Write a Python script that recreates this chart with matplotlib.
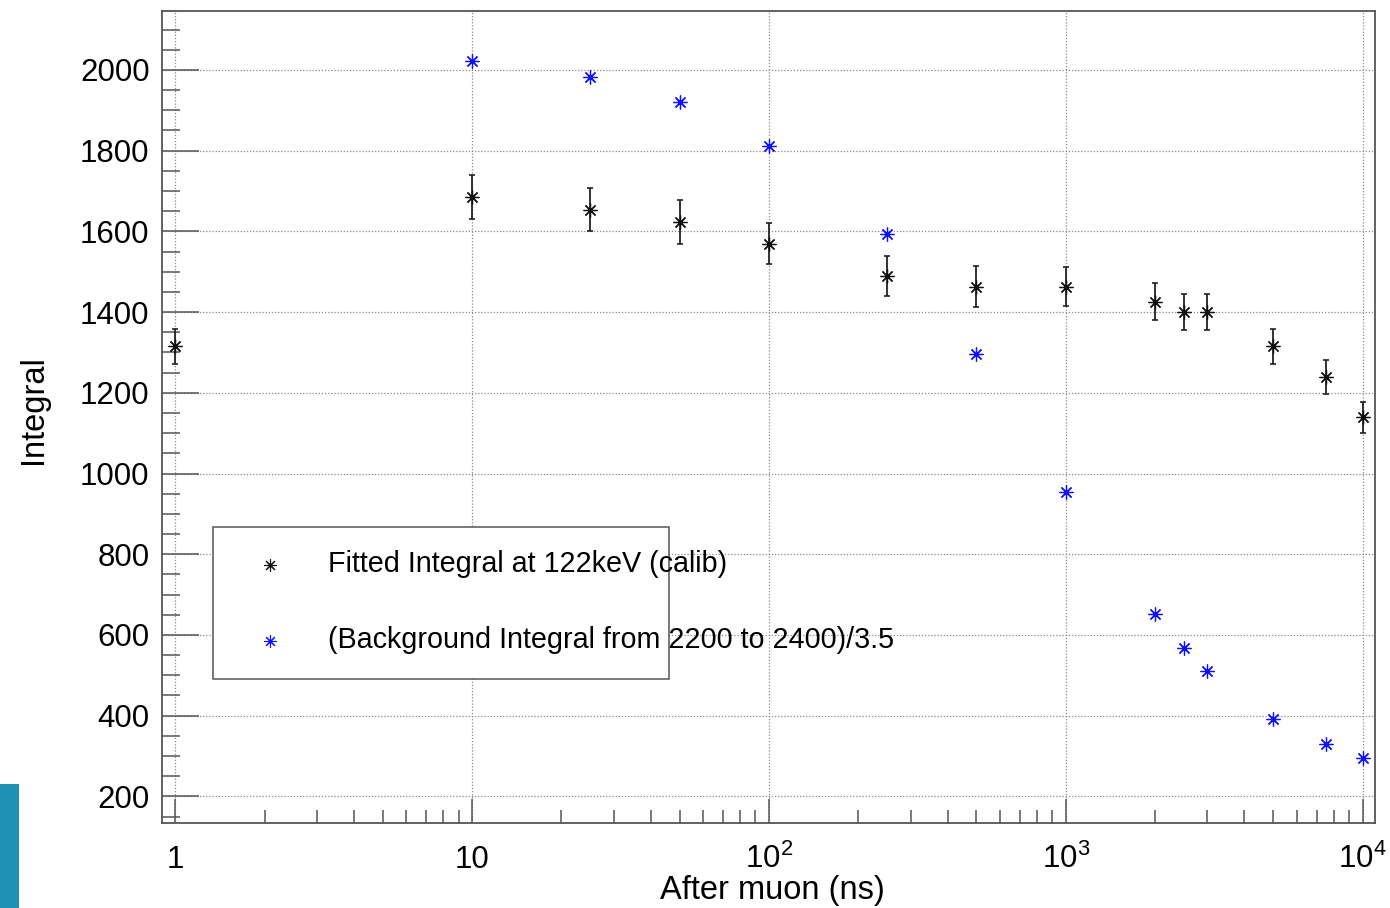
import matplotlib
matplotlib.use("Agg")
import matplotlib.pyplot as plt
from matplotlib.ticker import MultipleLocator, FixedLocator, FixedFormatter, NullFormatter
from matplotlib.patches import Rectangle
from matplotlib.lines import Line2D

plt.rcParams['font.family'] = ['Liberation Sans', 'DejaVu Sans']
plt.rcParams['mathtext.fontset'] = 'custom'
plt.rcParams['mathtext.rm'] = 'Liberation Sans'

# ---- data ----
x_fit = [1, 10, 25, 50, 100, 250, 500, 1000, 2000, 2500, 3000, 5000, 7500, 10000]
y_fit = [1315, 1685, 1654, 1623, 1569, 1489, 1463, 1463, 1426, 1400, 1400, 1315, 1239, 1139]
e_fit = [43, 54, 54, 54, 51, 50, 50, 49, 46, 45, 45, 43, 41, 38]

x_bkg = [10, 25, 50, 100, 250, 500, 1000, 2000, 2500, 3000, 5000, 7500, 10000]
y_bkg = [2022, 1983, 1920, 1812, 1594, 1297, 953, 652, 567, 510, 391, 330, 295]

xtick_vals = [1, 10, 100, 1000, 10000]
xtick_labels = ['1', '10', r'$\mathregular{10^{2}}$', r'$\mathregular{10^{3}}$', r'$\mathregular{10^{4}}$']
ytick_vals = [200, 400, 600, 800, 1000, 1200, 1400, 1600, 1800, 2000]

label_fit = 'Fitted Integral at 122keV (calib)'
label_bkg = '(Background Integral from 2200 to 2400)/3.5'

W, H = 1390, 908
fig = plt.figure(figsize=(W / 100, H / 100), dpi=100)
ax = fig.add_axes([162 / W, 1 - 823 / H, (1375 - 162) / W, (823 - 11) / H])

ax.set_xscale('log')
ax.set_xlim(0.902, 11008)
ax.set_ylim(134, 2146)

frame_c = '#555555'
for s in ax.spines.values():
    s.set_color(frame_c)
    s.set_linewidth(1.3)

ax.xaxis.set_major_locator(FixedLocator(xtick_vals))
ax.xaxis.set_major_formatter(FixedFormatter(xtick_labels))
minor_x = [m * 10 ** d for d in range(-1, 5) for m in range(2, 10)]
ax.xaxis.set_minor_locator(FixedLocator(minor_x))
ax.xaxis.set_minor_formatter(NullFormatter())

ax.yaxis.set_major_locator(FixedLocator(ytick_vals))
ax.yaxis.set_minor_locator(MultipleLocator(50))

ax.tick_params(axis='y', which='major', direction='in', length=26.5, width=1.1,
               color=frame_c, left=True, right=False, labelsize=22.5, pad=9)
ax.tick_params(axis='y', which='minor', direction='in', length=13, width=1.1,
               color=frame_c, left=True, right=False)
ax.tick_params(axis='x', which='major', direction='in', length=17, width=1.1,
               color=frame_c, bottom=True, top=False, labelsize=22.5, pad=32.4)
ax.tick_params(axis='x', which='minor', direction='in', length=9.4, width=1.1,
               color=frame_c, bottom=True, top=False)

ax.grid(True, which='major', linestyle=(0, (1, 1.5)), color='#8a8a8a', linewidth=0.9)
ax.set_axisbelow(True)

ax.errorbar(x_fit, y_fit, yerr=e_fit, fmt='none', ecolor='#222222',
            elinewidth=1.3, capsize=2.5, capthick=1.2, zorder=3)
star = (8, 2, 0)
ax.plot(x_fit, y_fit, linestyle='none', marker=star, markersize=10,
        markeredgewidth=0.9, color='#111111', zorder=4)
ax.plot(x_bkg, y_bkg, linestyle='none', marker=star, markersize=10,
        markeredgewidth=0.9, color='#1010ff', zorder=4)

fig.canvas.draw()
for lab in ax.get_xticklabels():
    lab.set_va('baseline')

# axis titles
fig.text(33 / W, 1 - 410 / H, 'Integral', rotation=90, ha='center', va='center', fontsize=23.5)
fig.text(772 / W, 1 - 890 / H, 'After muon (ns)', ha='center', va='center', fontsize=23.5)

# legend (box + entries)
fig.add_artist(Rectangle((213 / W, 1 - 679 / H), (669 - 213) / W, (679 - 527) / H,
                         transform=fig.transFigure, facecolor='white',
                         edgecolor=frame_c, linewidth=1.1, zorder=5))
fig.add_artist(Line2D([270 / W], [1 - 565 / H], transform=fig.transFigure,
                      marker=star, markersize=9, markeredgewidth=0.8,
                      color='#111111', linestyle='none', zorder=6))
fig.add_artist(Line2D([270 / W], [1 - 641 / H], transform=fig.transFigure,
                      marker=star, markersize=9, markeredgewidth=0.8,
                      color='#1010ff', linestyle='none', zorder=6))
fig.text(328 / W, 1 - 572 / H, label_fit, ha='left', va='baseline', fontsize=20.7, zorder=7)
fig.text(328 / W, 1 - 648 / H, label_bkg, ha='left', va='baseline', fontsize=20.7, zorder=7)

# teal strip at lower-left edge
fig.add_artist(Rectangle((0, 0), 19 / W, 124 / H, transform=fig.transFigure,
                         facecolor='#1f90b6', edgecolor='none'))

fig.savefig('out.png', dpi=100)
